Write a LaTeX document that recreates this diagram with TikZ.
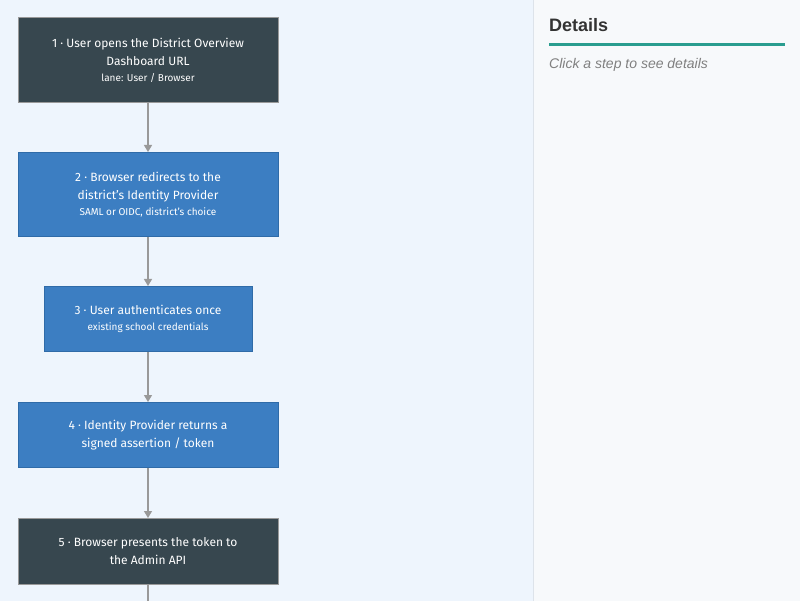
\documentclass[tikz,border=0pt]{standalone}
\usepackage{fontspec}
\setmainfont{Fira Sans}
\newfontfamily\panelfont{Liberation Sans}
\usetikzlibrary{arrows.meta}

\definecolor{leftbg}{HTML}{EEF5FD}
\definecolor{rightbg}{HTML}{F7F9FB}
\definecolor{panelline}{HTML}{DDE3EA}
\definecolor{darkstep}{HTML}{37474F}
\definecolor{bluestep}{HTML}{3C7EC2}
\definecolor{blueedge}{HTML}{2F6BA8}
\definecolor{flowgray}{HTML}{999999}
\definecolor{tealrule}{HTML}{2A9D8F}

\tikzset{
  stepbox/.style={draw=flowgray, line width=1pt, text=white, align=center,
    font=\fontsize{12}{18}\selectfont, inner sep=0pt},
  darkbox/.style={stepbox, fill=darkstep},
  bluebox/.style={stepbox, fill=bluestep, draw=blueedge},
  flow/.style={draw=flowgray, line width=1.4pt, -{Triangle[width=8pt,length=7pt]}},
}
\newcommand{\subline}[1]{{\fontsize{10}{12}\selectfont #1}}

\begin{document}
\begin{tikzpicture}[x=1pt, y=-1pt]
  % panels
  \fill[leftbg] (0,0) rectangle (533,600);
  \fill[rightbg] (533,0) rectangle (800,600);
  \draw[panelline, line width=1pt] (533.5,0) -- (533.5,600);
  \useasboundingbox (0,0) rectangle (800,600);

  % steps
  \node[darkbox, minimum width=260pt, minimum height=85pt] (s1) at (148,59.5)
    {1 · User opens the District Overview\\Dashboard URL\\[-2pt]\subline{lane: User / Browser}};
  \node[bluebox, minimum width=260pt, minimum height=84pt] (s2) at (148,194)
    {2 · Browser redirects to the\\district's Identity Provider\\[-2pt]\subline{SAML or OIDC, district's choice}};
  \node[bluebox, minimum width=208pt, minimum height=65pt] (s3) at (148,318.5)
    {3 · User authenticates once\\[-2pt]\subline{existing school credentials}};
  \node[bluebox, minimum width=260pt, minimum height=65pt] (s4) at (148,434.5)
    {4 · Identity Provider returns a\\signed assertion / token};
  \node[darkbox, minimum width=260pt, minimum height=66pt] (s5) at (148,551)
    {5 · Browser presents the token to\\the Admin API};
  \coordinate (next) at (148,604);

  % connectors
  \draw[flow] (s1) -- (s2);
  \draw[flow] (s2) -- (s3);
  \draw[flow] (s3) -- (s4);
  \draw[flow] (s4) -- (s5);
  \draw[draw=flowgray, line width=1.4pt] (s5) -- (next);

  % details panel
  \node[anchor=west, inner sep=0pt, text=black!80, font=\panelfont\bfseries\fontsize{18}{20}\selectfont] (dtitle) at (549,25) {Details};
  \draw[tealrule, line width=2.2pt] (549,44) -- (785,44);
  \node[anchor=west, inner sep=0pt, text=black!50, font=\panelfont\itshape\fontsize{14}{16}\selectfont] (dhint) at (549,64) {Click a step to see details};
\end{tikzpicture}
\end{document}
